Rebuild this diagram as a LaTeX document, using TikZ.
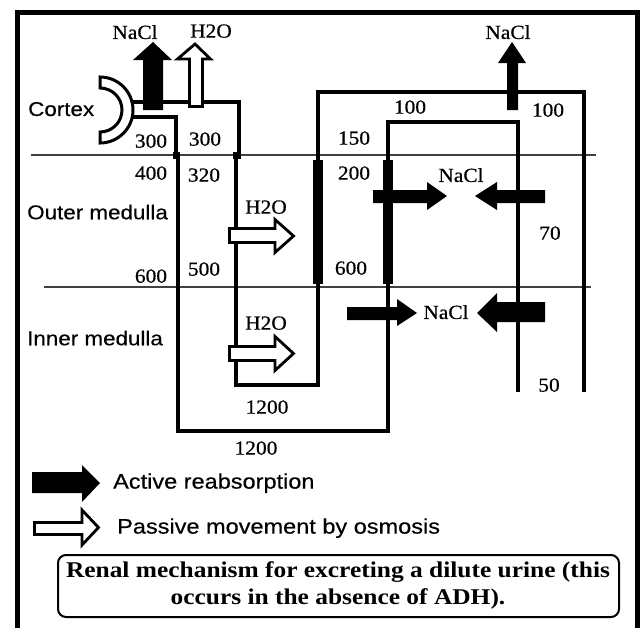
\documentclass[tikz,border=0pt]{standalone}
\usepackage{fontspec}
\newfontfamily\numf{Liberation Serif}[FakeStretch=1.07, FakeBold=0.6]
\newfontfamily\sansf{Liberation Sans}[FakeStretch=1.12, FakeBold=0.4]
\newfontfamily\capf{Liberation Serif}[FakeStretch=1.13]
\begin{document}
\begin{tikzpicture}[x=1pt,y=-1pt,
  frame/.style={line width=5pt},
  zone/.style={line width=1.3pt, black!75},
  tub/.style={line width=3.5pt, line join=miter},
  thickbar/.style={line width=10pt},
  blackarrow/.style={fill=black},
  whitearrow/.style={fill=white, draw=black, line width=2.8pt, line join=miter},
  num/.style={font=\numf\fontsize{20}{24}\selectfont, inner sep=0pt, text depth=0pt},
  lab/.style={font=\sansf\fontsize{20}{24}\selectfont, inner sep=0pt, text depth=0pt, anchor=west},
  leg/.style={font=\sansf\fontsize{21}{25}\selectfont, inner sep=0pt, text depth=0pt, anchor=west},
  captext/.style={font=\capf\bfseries\fontsize{22.5}{28}\selectfont, inner sep=0pt, anchor=base},
  capbox/.style={draw=black, line width=2pt, rounded corners=8pt}
]
\useasboundingbox (0,0) rectangle (643,627);
\fill[white] (0,0) rectangle (643,627);

% outer frame
\draw[frame] (17.5,630) -- (17.5,12.5) -- (637.5,12.5) -- (637.5,630);

% zone boundaries
\draw[zone] (31,155) -- (596,155);
\draw[zone] (44,287) -- (591,287);

% cortex half ring
\draw[fill=white, line width=3pt] (100,77) arc[start angle=-90, end angle=90, radius=33]
  -- (100,132) arc[start angle=90, end angle=-90, radius=22] -- cycle;

% long loop
\draw[tub] (132,117) -- (176,117) -- (176,155);
\draw[tub] (178,155) -- (178,431) -- (388,431) -- (388,122) -- (518,122) -- (518,392);
% short loop
\draw[tub] (132,102) -- (239,102) -- (239,155);
\draw[tub] (236,155) -- (236,385) -- (318,385) -- (318,92) -- (584,92) -- (584,392);
% junction marks
\fill (173,152) rectangle (180,159);
\fill (233,152) rectangle (241,159);
% thick ascending limbs
\draw[thickbar] (318,160) -- (318,284);
\draw[thickbar] (388,160) -- (388,284);

% top arrows
\fill[blackarrow] (143,110) -- (143,60) -- (133,60) -- (153,42) -- (172,60) -- (163,60) -- (163,110) -- cycle;
\draw[whitearrow] (189.5,106.5) -- (189.5,59) -- (177.5,59) -- (195,44) -- (210.5,59) -- (202.5,59) -- (202.5,106.5) -- cycle;
\fill[blackarrow] (507,110) -- (507,63) -- (498,63) -- (512,42) -- (526,63) -- (518,63) -- (518,110) -- cycle;

% H2O arrows
\draw[whitearrow] (229.5,228.5) -- (275,228.5) -- (275,219.5) -- (293.5,236) -- (275,252.5) -- (275,242.5) -- (229.5,242.5) -- cycle;
\draw[whitearrow] (229.5,346.5) -- (275,346.5) -- (275,336.5) -- (293.5,353.5) -- (275,370.5) -- (275,360.5) -- (229.5,360.5) -- cycle;

% NaCl arrows in medulla
\fill[blackarrow] (373,190) -- (427,190) -- (427,182) -- (447,196) -- (427,210) -- (427,203) -- (373,203) -- cycle;
\fill[blackarrow] (545,190) -- (497,190) -- (497,182) -- (475,196) -- (497,210) -- (497,203) -- (545,203) -- cycle;
\fill[blackarrow] (347,307) -- (397,307) -- (397,299) -- (417,313) -- (397,326) -- (397,320) -- (347,320) -- cycle;
\fill[blackarrow] (545,302) -- (497,302) -- (497,293) -- (477,313) -- (497,332) -- (497,322) -- (545,322) -- cycle;

% labels
\node[num] (nacl1) at (135,32) {NaCl};
\node[num] (h2o1) at (211,31) {H2O};
\node[num] (nacl2) at (508,32) {NaCl};
\node[lab] (cortex) at (28,109) {Cortex};
\node[num] (c300a) at (151,141) {300};
\node[num] (c300b) at (205,139) {300};
\node[num] (o400) at (151,173) {400};
\node[num] (o320) at (204,175) {320};
\node[lab] (outer) at (27,212) {Outer medulla};
\node[num] (h2o2) at (266,207) {H2O};
\node[num] (o600) at (151,276) {600};
\node[num] (o500) at (204,269) {500};
\node[lab] (inner) at (27,338) {Inner medulla};
\node[num] (h2o3) at (266,323) {H2O};
\node[num] (i1200a) at (267,407) {1200};
\node[num] (i1200b) at (256,448) {1200};
\node[num] (d100a) at (410,107) {100};
\node[num] (d100b) at (548,110) {100};
\node[num] (d150) at (354,138) {150};
\node[num] (d200) at (354,173) {200};
\node[num] (nacl3) at (461,175) {NaCl};
\node[num] (d70) at (550,233) {70};
\node[num] (d600) at (351,268) {600};
\node[num] (nacl4) at (446,312) {NaCl};
\node[num] (d50) at (549,385) {50};

% legend
\fill[blackarrow] (32,472) -- (82,472) -- (82,465) -- (100,483) -- (82,502) -- (82,493) -- (32,493) -- cycle;
\node[leg] (active) at (113,481) {Active reabsorption};
\draw[whitearrow] (34.5,522.5) -- (82,522.5) -- (82,510) -- (98.5,527.5) -- (82,545) -- (82,534.5) -- (34.5,534.5) -- cycle;
\node[leg] (passive) at (117,526) {Passive movement by osmosis};

% caption
\draw[capbox] (58,555) rectangle (619,617);
\node[captext] (cap1) at (338,577) {Renal mechanism for excreting a dilute urine (this};
\node[captext] (cap2) at (338,604) {occurs in the absence of ADH).};
\end{tikzpicture}
\end{document}
